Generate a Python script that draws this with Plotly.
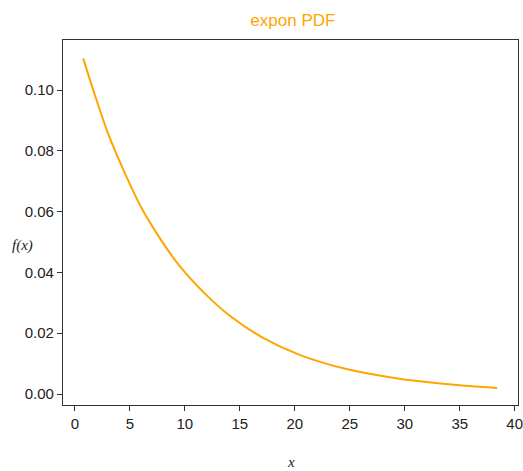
import plotly.graph_objects as go

# Values
x_vals = [0.75, 1.8, 3.0, 4.5, 6.0, 7.5, 9.5, 11.8, 14.2, 17.2, 20.5, 24.7, 29.2, 33.7, 38.4]
pdf_vals = [0.1104, 0.0985, 0.0858, 0.0730, 0.0616, 0.0525, 0.0422, 0.0331, 0.0254, 0.0183,
            0.0128, 0.0082, 0.0052, 0.0033, 0.0020]
x_ticks = [0, 5, 10, 15, 20, 25, 30, 35, 40]
y_ticks = [0.00, 0.02, 0.04, 0.06, 0.08, 0.10]

tick_font = dict(family="Liberation Sans Narrow, Liberation Sans, Arial", size=15, color="#222222")
label_font = dict(family="Liberation Serif, DejaVu Serif, serif", size=15, color="#222222")

fig = go.Figure()
fig.add_trace(go.Scatter(
    x=x_vals, y=pdf_vals, mode="lines",
    line=dict(color="#FFA500", width=2, shape="spline", smoothing=0.8),
    showlegend=False,
))

fig.update_layout(
    width=523, height=471,
    margin=dict(l=63, r=0, t=40, b=66),
    paper_bgcolor="white", plot_bgcolor="white",
    title=dict(text="expon PDF", x=0.56, xanchor="center", y=0.958, yanchor="middle",
               font=dict(family="Liberation Sans Narrow, Liberation Sans, Arial", size=17, color="#FFA500")),
)
fig.update_xaxes(
    range=[-1.085, 40.3], tickvals=x_ticks, ticktext=[str(v) for v in x_ticks],
    showgrid=False, zeroline=False, showline=True, linecolor="#333333", linewidth=1.3, mirror=True,
    ticks="outside", ticklen=5, tickcolor="#333333", tickfont=tick_font,
    ticklabeloverflow="allow",
)
fig.update_yaxes(
    range=[-0.00362, 0.11645], tickvals=y_ticks, ticktext=[f"{v:.2f}" for v in y_ticks],
    showgrid=False, zeroline=False, showline=True, linecolor="#333333", linewidth=1.3, mirror=True,
    ticks="outside", ticklen=5, tickcolor="#333333", tickfont=tick_font,
)
fig.add_annotation(text="<i>f(x)</i>", xref="paper", yref="paper",
                   x=(22 - 63) / 460, y=(405 - 245) / 365, showarrow=False,
                   xanchor="center", yanchor="middle", font=label_font)
fig.add_annotation(text="<i>x</i>", xref="paper", yref="paper",
                   x=(293 - 63) / 460, y=-(462 - 405) / 365, showarrow=False,
                   xanchor="center", yanchor="middle", font=label_font)

fig.write_html("out.html", config={"displayModeBar": False},
               post_script="document.body.style.margin='0';")
